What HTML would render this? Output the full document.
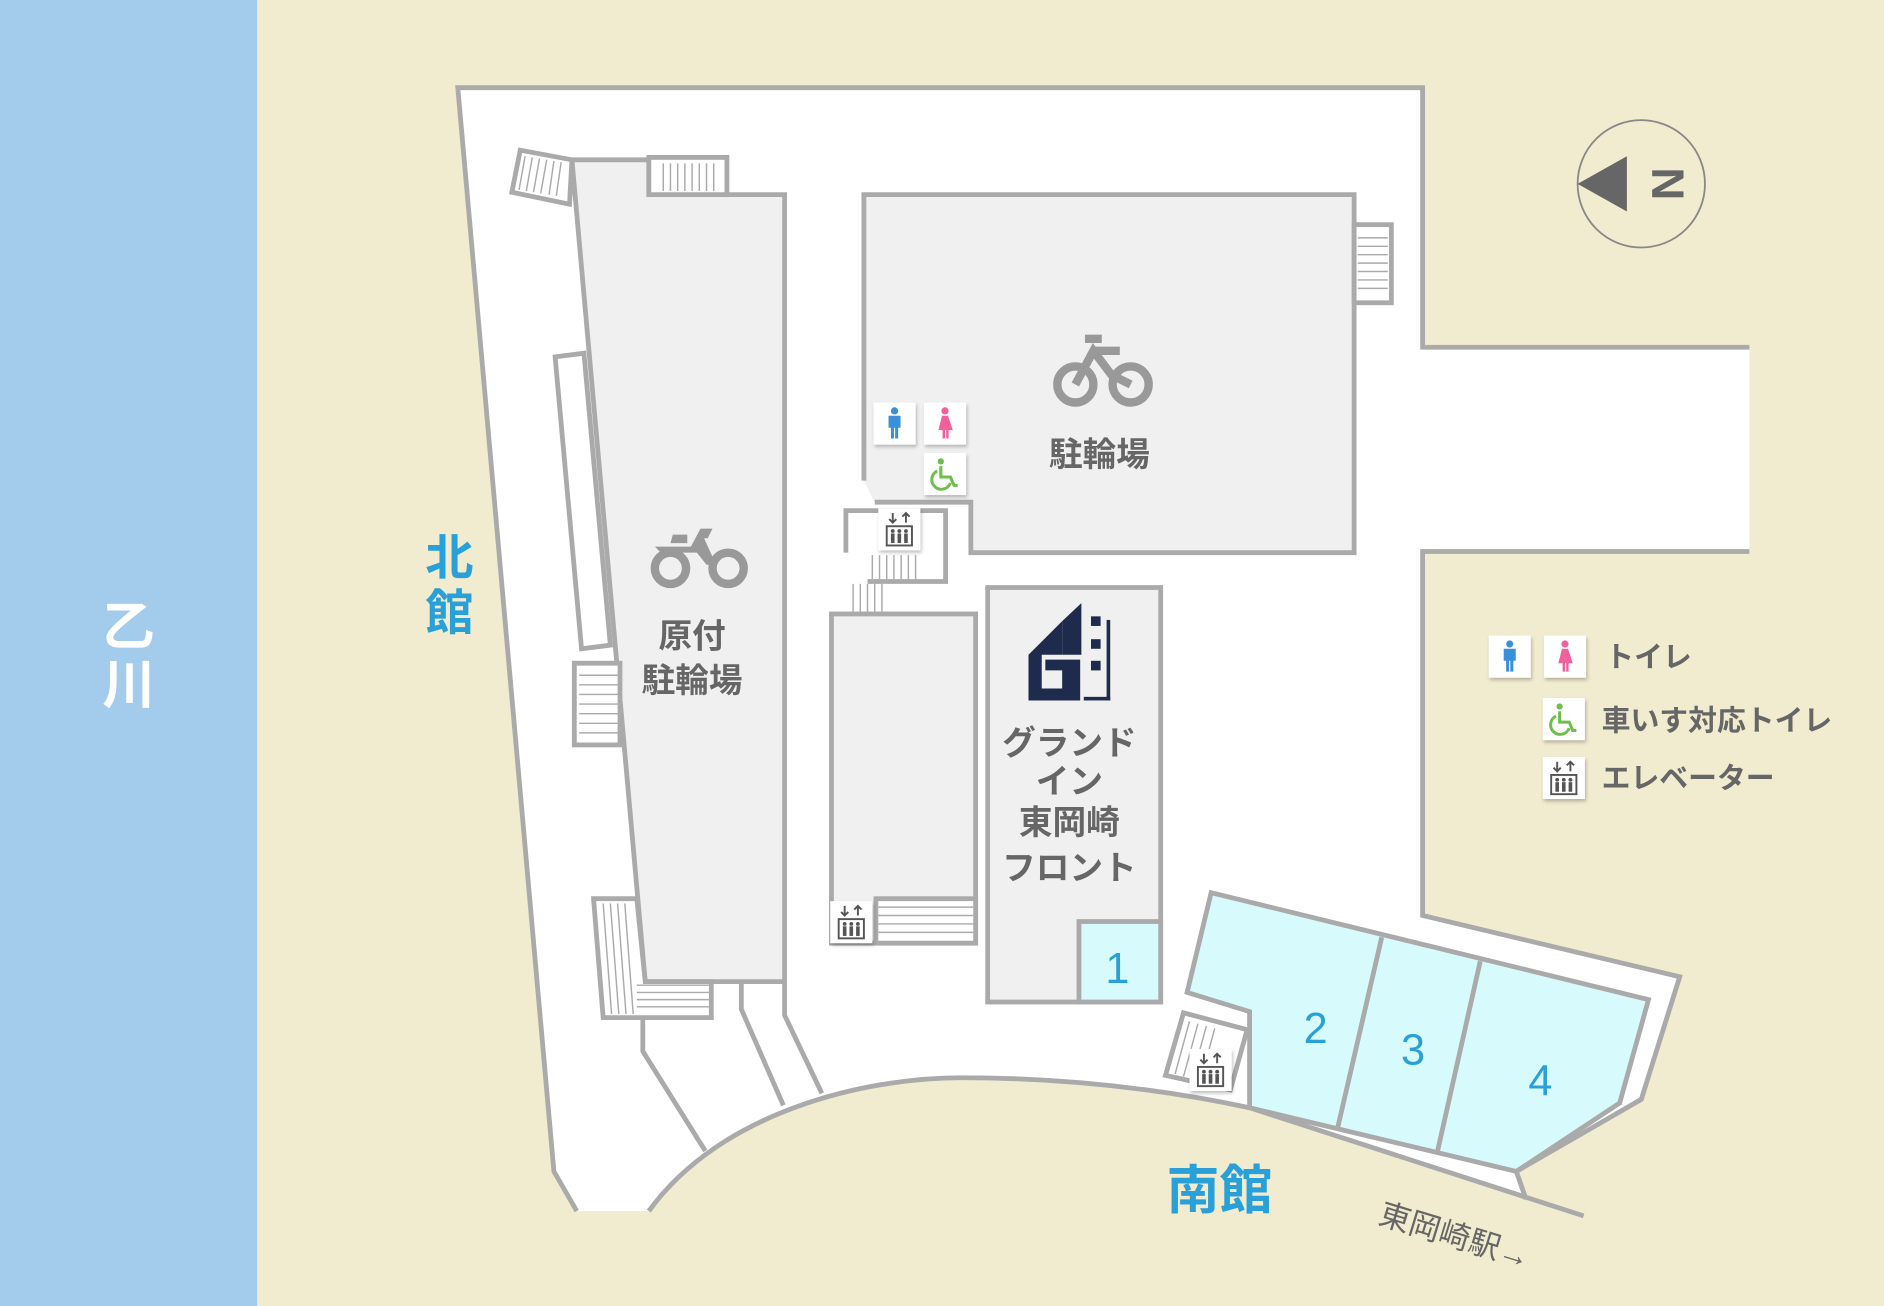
<!DOCTYPE html>
<html><head><meta charset="utf-8"><style>
html,body{margin:0;padding:0;width:1884px;height:1306px;overflow:hidden;background:#f1ebcf}
svg{display:block}
text{font-family:"Liberation Sans","Noto Sans CJK JP",sans-serif}
</style></head><body>
<svg width="1884" height="1306" viewBox="0 0 1568 1087" preserveAspectRatio="none" xmlns="http://www.w3.org/2000/svg">
<defs>
<filter id="sh" x="-30%" y="-30%" width="160%" height="160%"><feDropShadow dx="1" dy="2" stdDeviation="1.5" flood-color="#000" flood-opacity="0.25"/></filter>
<g id="men"><rect width="35" height="35" fill="#fff" filter="url(#sh)"/><circle cx="17.5" cy="7" r="3" fill="#3a8fd9"/><path d="M12.5,11 h10 v10 h-2 v9 h-2.5 v-9 h-1 v9 h-2.5 v-9 h-2z" fill="#3a8fd9"/></g>
<g id="women"><rect width="35" height="35" fill="#fff" filter="url(#sh)"/><circle cx="17.5" cy="7" r="3" fill="#f0609a"/><path d="M15,11 h5 l4,12 h-3.5 v7 h-2 v-7 h-1 v7 h-2 v-7 h-3.5z" fill="#f0609a"/></g>
<g id="wc"><rect width="35" height="35" fill="#fff" filter="url(#sh)"/><circle cx="14" cy="7" r="2.6" fill="#6cc04a"/><path d="M14,11 v9 h8 l3,7 h3" fill="none" stroke="#6cc04a" stroke-width="2.5"/><path d="M11,15 a8,8 0 1 0 11,10" fill="none" stroke="#6cc04a" stroke-width="2.5"/></g>
<g id="elv"><rect width="35" height="35" fill="#fff" filter="url(#sh)"/><path d="M12,4 v8 M9,9 l3,3 3,-3 M23,12 v-8 M20,7 l3,-3 3,3" stroke="#555" stroke-width="1.6" fill="none"/><rect x="7" y="15" width="21" height="16" fill="none" stroke="#555" stroke-width="1.6"/><g fill="#555"><circle cx="12" cy="19" r="1.6"/><circle cx="17.5" cy="19" r="1.6"/><circle cx="23" cy="19" r="1.6"/><rect x="10.5" y="21" width="3" height="8"/><rect x="16" y="21" width="3" height="8"/><rect x="21.5" y="21" width="3" height="8"/></g></g>
</defs>
<rect x="0" y="0" width="214" height="1087" fill="#a2cbec"/>
<text x="107" y="537" font-size="44" fill="#fff" text-anchor="middle" font-weight="bold">乙</text>
<text x="107" y="585" font-size="44" fill="#fff" text-anchor="middle" font-weight="bold">川</text>

<path d="M381,73 L1184,73 L1184,289 L1456,289 L1456,459 L1184,459 L1184,762 L1398,813 L1366,915 L1262,975 L1270,998 L1040,922 C960,905 880,897 800,897 C720,897 600,925 540,1008 L480,1008 L461,975 Z" fill="#fff"/>
<g fill="none" stroke="#aaa" stroke-width="4">
<polyline points="1456,289 1184,289 1184,73 381,73 461,975 480,1008"/>
<polyline points="1456,459 1184,459 1184,762 1398,813 1366,915 1262,975 1270,998"/>
<path d="M540,1008 C600,925 720,897 800,897 C880,897 960,905 1040,922 L1318,1012"/>
<polyline points="535,847 535,875 587,958"/>
<polyline points="617,817 617,840 652,920"/>
<polyline points="653,817 653,845 684,910"/>
</g>

<g stroke="#aaa" stroke-width="4">
<path d="M476,133 L540,133 L540,162 L653,162 L653,817 L537,817 Z" fill="#f0f0f0"/>
<rect x="540" y="131" width="65" height="31" fill="#fff"/>
<path d="M433,125 L476,133 L474,170 L426,160 Z" fill="#fff"/>
<path d="M462,297 L486,294 L508,537 L484,540 Z" fill="#fff"/>
<rect x="478" y="552" width="38" height="68" fill="#fff"/>
<path d="M494,748 L530,748 L537,817 L592,817 L592,847 L502,847 Z" fill="#fff"/>
</g>
<g stroke="#aaa" stroke-width="1.2">
<path d="M552,136v23M558,136v23M564,136v23M570,136v23M576,136v23M582,136v23M588,136v23M594,136v23"/>
<path d="M437,130 l-5,28 M443,131 l-5,28 M449,132 l-5,28 M455,133 l-5,28 M461,134 l-4,28 M467,135 l-4,28"/>
<path d="M482,562h32M482,570h32M482,578h32M482,586h32M482,594h32M482,602h32M482,610h32"/>
<path d="M502,752l7,92M508,752l7,92M514,752l7,92M520,752l7,92M530,820h60M530,826h60M530,832h60M530,838h60"/>
</g>
<g fill="#999">
<circle cx="558" cy="473" r="13" fill="none" stroke="#999" stroke-width="7"/><circle cx="606" cy="473" r="13" fill="none" stroke="#999" stroke-width="7"/>
<path d="M545,455 h30 l8,-15 h10 l-4,8 h-3 l10,22 h-8 l-8,-10 h-30 z M560,445 h12 v7 h-14z"/>
</g>
<text x="576" y="539" font-size="28" fill="#666" text-anchor="middle" font-weight="bold">原付</text>
<text x="576" y="576" font-size="28" fill="#666" text-anchor="middle" font-weight="bold">駐輪場</text>
<text x="374" y="478" font-size="40" fill="#2aa0d8" text-anchor="middle" font-weight="bold">北</text>
<text x="374" y="524" font-size="40" fill="#2aa0d8" text-anchor="middle" font-weight="bold">館</text>

<path d="M719,400 L719,162 L1127,162 L1127,460 L808,460 L808,418 L728,418" fill="#f0f0f0" stroke="#aaa" stroke-width="4"/>
<rect x="1127" y="187" width="31" height="65" fill="#fff" stroke="#aaa" stroke-width="4"/>
<path d="M1130,198h25M1130,205h25M1130,212h25M1130,219h25M1130,226h25M1130,233h25M1130,240h25" stroke="#aaa" stroke-width="1.2"/>
<g fill="none" stroke="#999" stroke-width="7">
<circle cx="895" cy="320" r="15"/><circle cx="941" cy="320" r="15"/>
<path d="M895,320 L910,292 L925,312 L941,320 M903,282 h14 M910,292 h22"/>
</g>
<text x="915" y="388" font-size="28" fill="#666" text-anchor="middle" font-weight="bold">駐輪場</text>
<use href="#men" x="727" y="335"/><use href="#women" x="769" y="335"/><use href="#wc" x="769" y="377"/>
<polyline points="704,460 704,425 787,425 787,484 722,484" fill="#fff" stroke="#aaa" stroke-width="4"/>
<path d="M726,462v20M732,462v20M738,462v20M744,462v20M750,462v20M756,462v20M762,462v20M710,486v24M716,486v24M722,486v24M728,486v24M734,486v24" stroke="#aaa" stroke-width="1.2"/>
<use href="#elv" x="731" y="423"/>

<rect x="692" y="511" width="120" height="274" fill="#f0f0f0" stroke="#aaa" stroke-width="4"/>
<rect x="729" y="748" width="83" height="37" fill="#fff" stroke="#aaa" stroke-width="4"/>
<path d="M731,755h79M731,762h79M731,769h79M731,776h79" stroke="#aaa" stroke-width="1.2"/>
<use href="#elv" x="691" y="750"/>

<rect x="822" y="489" width="144" height="345" fill="#f0f0f0" stroke="#aaa" stroke-width="4"/>
<rect x="898" y="767" width="68" height="67" fill="#d7fbfd" stroke="#aaa" stroke-width="4"/>
<text x="930" y="818" font-size="36" fill="#2aa0d8" text-anchor="middle">1</text>
<g fill="#1f2b4d">
<path d="M856,545 L884,517 L884,545 L867,545 L867,573 L884,573 L884,558 L870,558 L870,549 L899,549 L899,583 L856,583 Z"/>
<path d="M884,517 L900,502 L900,545 L884,545 Z"/>
<rect x="908" y="513" width="8" height="8"/><rect x="908" y="532" width="8" height="8"/><rect x="908" y="550" width="8" height="8"/>
<rect x="921" y="516" width="3" height="67"/><rect x="902" y="580" width="22" height="3"/>
</g>
<g font-size="28" fill="#666" text-anchor="middle" font-weight="bold">
<text x="890" y="628">グランド</text><text x="890" y="660">イン</text><text x="890" y="694">東岡崎</text><text x="890" y="732">フロント</text>
</g>

<path d="M1008,743 L1372,832 L1348,918 L1262,975 L1040,922 L1040,842 L988,826 Z" fill="#d7fbfd" stroke="#aaa" stroke-width="4"/>
<path d="M1150,780 L1113,940 M1232,800 L1196,960" stroke="#aaa" stroke-width="4"/>
<text x="1095" y="868" font-size="36" fill="#2aa0d8" text-anchor="middle">2</text>
<text x="1176" y="886" font-size="36" fill="#2aa0d8" text-anchor="middle">3</text>
<text x="1282" y="912" font-size="36" fill="#2aa0d8" text-anchor="middle">4</text>
<path d="M985,843 L1038,857 L1024,907 L970,895 Z" fill="#fff" stroke="#aaa" stroke-width="4"/>
<path d="M990,850l-12,44M997,852l-12,44M1004,854l-12,44M1011,856l-12,44" stroke="#aaa" stroke-width="1.2"/>
<use href="#elv" x="990" y="873"/>
<text x="1015" y="1006" font-size="44" fill="#2aa0d8" text-anchor="middle" font-weight="bold">南館</text>
<text transform="translate(1146,1018) rotate(17)" font-size="26" fill="#666">東岡崎駅→</text>

<circle cx="1366" cy="153" r="53" fill="none" stroke="#888" stroke-width="1.5"/>
<path d="M1313,153 L1354,130 L1354,176 Z" fill="#666"/>
<text transform="translate(1373,153) rotate(-90)" font-size="38" fill="#666" text-anchor="middle" font-weight="bold" x="0" y="28">N</text>

<use href="#men" x="1239" y="529"/><use href="#women" x="1285" y="529"/>
<text x="1336" y="555" font-size="24" fill="#666" font-weight="bold">トイレ</text>
<use href="#wc" x="1284" y="581"/>
<text x="1333" y="608" font-size="24" fill="#666" font-weight="bold">車いす対応トイレ</text>
<use href="#elv" x="1284" y="630"/>
<text x="1333" y="656" font-size="24" fill="#666" font-weight="bold">エレベーター</text>
</svg>
</body></html>
